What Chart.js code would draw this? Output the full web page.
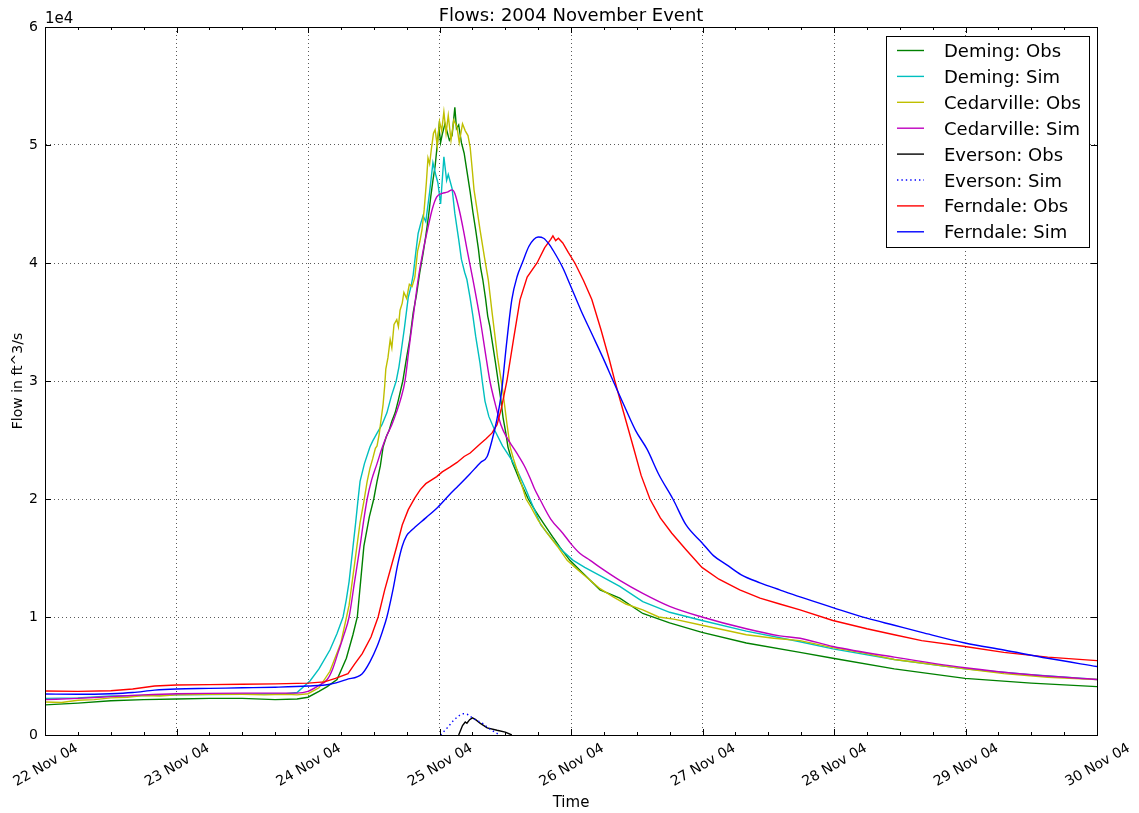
<!DOCTYPE html>
<html>
<head>
<meta charset="utf-8">
<title>Flows: 2004 November Event</title>
<script src="https://cdn.jsdelivr.net/npm/chart.js@4/dist/chart.umd.min.js"></script>
<style>
  html, body { margin: 0; padding: 0; background: #fff; }
  canvas { display: block; }
</style>
</head>
<body>
<canvas id="flows" width="1139" height="813"></canvas>
<script>
// time is in hours since 22 Nov 2004 00:00, flows in ft^3/s
const dayLabels = ['22 Nov 04', '23 Nov 04', '24 Nov 04', '25 Nov 04', '26 Nov 04',
  '27 Nov 04', '28 Nov 04', '29 Nov 04', '30 Nov 04'];
const flowTicks = [0, 1, 2, 3, 4, 5, 6];

const demingObsHours = [0, 6, 12, 18, 24, 30, 36, 42, 46, 48, 50, 51.5, 53.3, 55, 56.2, 57, 57.6, 58.2, 59.2, 60,
  60.6, 61.2, 61.7, 62.3, 62.8, 63.3, 63.9, 64.5, 65.3, 66, 66.6, 67.2, 67.8, 68.4, 69, 69.5, 70, 70.4, 70.8, 71.2,
  71.5, 71.9, 72.2, 72.5, 73, 73.4, 73.8, 74.3, 74.8, 75.1, 75.5, 76, 76.5, 77, 77.6, 78.1, 78.6, 79.1, 79.5, 79.9,
  80.4, 80.8, 81.2, 81.6, 82.2, 82.7, 83.2, 83.6, 84.1, 84.5, 85.3, 86, 86.7, 87.5, 88.2, 89.5, 90.9, 92.5, 94, 95.8,
  98, 101.3, 104.9, 109.1, 114, 119.9, 128, 137.8, 143.8, 155, 167.9, 180, 192];
const demingObsFlow = [2550, 2700, 2900, 3000, 3050, 3100, 3100, 3000, 3050, 3200, 3700, 4100, 4700, 6500, 8500, 10000, 13000, 16000, 18500, 20000,
  21500, 22800, 24400, 25300, 25800, 26600, 27300, 28400, 30000, 32000, 33600, 35800, 37300, 39200, 40800, 42300, 44000, 45600, 47000, 48200,
  49600, 51500, 50200, 50900, 51800, 51100, 50400, 50800, 53200, 51400, 51700, 50200, 49300, 47800, 46000, 44300, 42800, 41200, 39600, 38600,
  37000, 35500, 34600, 33400, 31600, 30000, 28400, 26900, 25600, 24400, 23100, 22300, 21500, 20700, 20000, 19000, 18000, 16900, 15900, 14800,
  13800, 12300, 11600, 10300, 9500, 8700, 7800, 7000, 6500, 5600, 4800, 4400, 4100];

const demingSimHours = [0, 6, 12, 18, 24, 36, 44, 46, 48.4, 50, 52, 53.3, 54.4, 55, 55.5, 56.2, 56.7, 57.1, 57.5, 58.3,
  59.3, 59.8, 60.5, 61.5, 62.4, 63.2, 64.1, 64.6, 65, 65.6, 66.3, 66.8, 67.2, 67.7, 68.1, 68.6, 69, 69.5, 70.2, 70.8,
  71.3, 71.7, 72.2, 72.8, 73.3, 73.6, 74.3, 74.8, 75.5, 76, 76.6, 77, 77.6, 78.1, 78.6, 79.4, 79.8, 80.3, 81, 82.1,
  83.5, 85.2, 86.2, 86.8, 87.6, 88.5, 90.5, 92.7, 94.5, 96.4, 98.5, 101.3, 104.9, 109.1, 114, 119.9, 128, 137.8, 143.8, 155,
  167.9, 180, 192];
const demingSimFlow = [3100, 3150, 3300, 3350, 3400, 3450, 3500, 3600, 4600, 5600, 7200, 8600, 10000, 11500, 13000, 15900, 18000, 19800, 21500, 23000,
  24400, 24900, 25500, 26300, 27300, 28700, 30000, 31200, 32500, 34500, 37100, 38000, 39000, 41000, 42500, 43400, 44000, 43500, 46000, 48500,
  47500, 46800, 45000, 49000, 47000, 47500, 46300, 44200, 42000, 40300, 39200, 38600, 37000, 35500, 33800, 31500, 30000, 28300, 27000, 25800,
  24500, 23300, 22400, 21800, 21000, 20000, 17800, 16500, 15600, 14800, 14200, 13500, 12600, 11300, 10400, 9700, 8800, 7900, 7300, 6400,
  5600, 5100, 4700];

const cedarObsHours = [0, 3, 6, 9, 12, 15, 18, 21, 24, 30, 36, 40, 44, 46, 48, 50, 52, 54, 55.5, 56.5,
  57.5, 58.2, 58.8, 59.3, 59.8, 60.3, 60.6, 61, 61.3, 61.7, 62, 62.2, 62.6, 63, 63.3, 63.7, 64.2, 64.5, 64.8, 65.2,
  65.5, 66, 66.5, 67, 67.5, 68, 68.4, 68.8, 69.2, 69.6, 69.9, 70.2, 70.5, 70.9, 71.2, 71.6, 72, 72.4, 72.8, 73.2,
  73.6, 74.1, 74.6, 75.2, 75.6, 76.2, 76.7, 77.2, 77.6, 78, 78.3, 78.8, 79.4, 80.2, 80.9, 81.6, 82.6, 83.6, 84.3, 84.9,
  85.5, 86.2, 87, 87.8, 88.6, 90, 91.5, 93.5, 95.3, 97, 99, 101.3, 103.7, 106, 109.1, 112, 115, 119.9, 124, 128,
  133, 137.8, 143.8, 150, 155, 160, 167.9, 175, 183, 192];
const cedarObsFlow = [2800, 2750, 2950, 3000, 3150, 3200, 3350, 3300, 3400, 3450, 3450, 3400, 3450, 3400, 3500, 4000, 5400, 7800, 11000, 14500,
  18000, 19800, 21500, 22600, 23400, 24300, 24500, 25500, 26600, 28000, 29600, 31000, 32000, 33500, 32800, 34800, 35200, 34600, 36000, 36600,
  37500, 37000, 38200, 38000, 38800, 41000, 41800, 42800, 44500, 46800, 48900, 48400, 49600, 51000, 51300, 49900, 52000, 51200, 52800, 51000,
  52500, 50400, 52100, 51500, 50200, 51800, 51200, 50800, 49800, 47800, 46200, 44700, 42800, 40500, 38600, 35800, 32000, 29000, 26400, 24400,
  23400, 22400, 21200, 20000, 19400, 18200, 17200, 16000, 14800, 14100, 13300, 12400, 11700, 11100, 10600, 10000, 9800, 9300, 8900, 8500,
  8200, 8000, 7400, 6900, 6400, 6100, 5600, 5200, 4900, 4700];

const cedarSimHours = [0, 6, 12, 18, 24, 36, 46, 48, 50, 51.5, 52.5, 53.5, 54.5, 55.5, 56.5, 57.5, 58.2, 58.8, 59.6, 60.6,
  61.5, 62.5, 63.3, 64.1, 65, 65.7, 66.5, 67.3, 68.1, 69, 69.9, 70.7, 71.5, 72.5, 73.4, 74.3, 74.8, 75.7, 76.4, 77,
  78.1, 79.5, 80.4, 81.2, 82.2, 83.2, 84.3, 85.4, 86.5, 87.5, 88.5, 89.4, 90.3, 92.3, 94.5, 96, 97.6, 99.5, 101.3, 104.9,
  109.1, 114, 119.9, 128, 134.1, 137.8, 143.8, 155, 167.9, 180, 192];
const cedarSimFlow = [3000, 3100, 3250, 3400, 3500, 3550, 3550, 3700, 4200, 4700, 5600, 7000, 8400, 10000, 13000, 16000, 18300, 20000, 21600, 23000,
  24300, 25500, 26300, 27300, 28600, 30000, 33000, 35800, 38600, 41000, 43000, 44600, 45600, 45900, 46000, 46200, 45900, 44300, 42700, 41200,
  38600, 35000, 32300, 30000, 28000, 26300, 25200, 24400, 23600, 22800, 21800, 20800, 20000, 18300, 17100, 16200, 15400, 14800, 14200, 13100,
  12000, 10900, 10000, 9000, 8400, 8200, 7500, 6600, 5700, 5100, 4700];

const eversonObsHours = [75.5, 76.2, 76.7, 77, 77.5, 78, 78.6, 79.4, 80.7, 82.5, 84, 85.2];
const eversonObsFlow = [0, 800, 1100, 1000, 1300, 1450, 1300, 1000, 600, 400, 250, 0];

const eversonSimHours = [72.2, 73.6, 74.5, 75.2, 76.3, 77.3, 78.1, 79, 79.8, 80.9, 82.1, 83];
const eversonSimFlow = [0, 700, 1200, 1500, 1800, 1700, 1400, 1200, 1000, 600, 250, 0];

const ferndaleObsHours = [0, 6, 12, 16, 20, 24, 30, 36, 42, 48, 51, 53, 55.3, 56.5, 57.9, 59.5, 60.8, 62, 63.2, 64.2,
  65.2, 66.3, 67.5, 68.5, 69.5, 70.5, 71.5, 72.5, 73.9, 75.2, 76.5, 77.6, 79.5, 80.5, 81.6, 82.5, 83.3, 84.3, 85.5, 86.7,
  88, 89.8, 91.2, 92.3, 92.7, 93.2, 93.7, 94.5, 95.5, 96.7, 98.3, 99.8, 101.5, 103, 104, 105.5, 107.5, 108.8, 110.4, 112.3,
  114.4, 117, 119.9, 123, 126.8, 130.5, 134.1, 137.8, 143.8, 150, 155, 160, 167.9, 175, 183, 192];
const ferndaleObsFlow = [3730, 3700, 3750, 3900, 4150, 4240, 4270, 4300, 4330, 4400, 4500, 4800, 5200, 6000, 6900, 8300, 10000, 12300, 14300, 16000,
  17800, 19100, 20100, 20800, 21300, 21600, 21900, 22300, 22700, 23100, 23600, 23900, 24700, 25100, 25600, 26300, 27700, 30000, 33500, 36900,
  38800, 40000, 41300, 42000, 42300, 41900, 42100, 41700, 40900, 40000, 38500, 36900, 34300, 31800, 30000, 27500, 24200, 22000, 20000, 18400,
  17100, 15700, 14200, 13200, 12300, 11600, 11100, 10600, 9700, 9000, 8500, 8000, 7500, 7000, 6600, 6300];

const ferndaleSimHours = [0, 6, 12, 16, 20, 24, 30, 36, 42, 48, 52, 55, 57.9, 59.3, 60.6, 61.6, 62.4, 63.5, 64.4, 65.2,
  66, 66.8, 67.5, 69.5, 71.7, 73.9, 75.4, 77.5, 79.5, 80.7, 81.6, 82.5, 83.3, 84.2, 85.2, 86.2, 87.1, 88.3, 89.2, 90,
  91, 92, 92.7, 94.5, 95.8, 97.8, 99.8, 101.8, 103.7, 106, 107.8, 109.9, 112, 114.6, 117, 119.9, 122, 124.5, 127, 130.5,
  134.1, 137.8, 143.8, 150, 155, 160, 167.9, 175, 183, 192];
const ferndaleSimFlow = [3470, 3450, 3500, 3600, 3800, 3900, 3950, 4000, 4050, 4150, 4300, 4700, 5200, 6200, 7500, 8800, 10000, 12300, 14500, 16000,
  16900, 17300, 17600, 18400, 19300, 20400, 21100, 22100, 23100, 23600, 25000, 26800, 29000, 33000, 36900, 38900, 40000, 41400, 42000, 42200,
  42100, 41600, 41100, 39600, 38200, 36000, 34000, 32000, 30000, 27600, 25800, 24200, 22100, 20000, 17800, 16300, 15200, 14400, 13600, 12900,
  12300, 11700, 10800, 9900, 9300, 8700, 7800, 7200, 6500, 5800];

const FONT = 'DejaVu Sans';

function toPoints(hours, flows) {
  return hours.map((h, i) => ({ x: h, y: flows[i] }));
}

function line(label, hours, flows, color, dash, smooth) {
  return {
    label: label,
    data: toPoints(hours, flows),
    borderColor: color,
    backgroundColor: color,
    borderWidth: 1.4,
    borderDash: dash || [],
    pointRadius: 0,
    fill: false,
    tension: 0,
    cubicInterpolationMode: smooth ? 'monotone' : 'default'
  };
}

const datasets = [
  line('Deming: Obs', demingObsHours, demingObsFlow, '#008000'),
  line('Deming: Sim', demingSimHours, demingSimFlow, '#00bfbf'),
  line('Cedarville: Obs', cedarObsHours, cedarObsFlow, '#bfbf00'),
  line('Cedarville: Sim', cedarSimHours, cedarSimFlow, '#bf00bf', null, true),
  line('Everson: Obs', eversonObsHours, eversonObsFlow, '#000000'),
  line('Everson: Sim', eversonSimHours, eversonSimFlow, '#0000ff', [1.4, 3], true),
  line('Ferndale: Obs', ferndaleObsHours, ferndaleObsFlow, '#ff0000'),
  line('Ferndale: Sim', ferndaleSimHours, ferndaleSimFlow, '#0000ff', null, true)
];
// matplotlib draws later lines on top
datasets.forEach((d, i) => { d.order = datasets.length - i; });

const gridColor = 'rgba(0,0,0,0.65)';

// title, offset text, inward ticks, frame and legend box
const decor = {
  id: 'decor',
  afterDraw(chart) {
    const ctx = chart.ctx;
    const a = chart.chartArea;
    const xs = chart.scales.x, ys = chart.scales.y;
    ctx.save();
    ctx.strokeStyle = '#000';
    ctx.lineWidth = 1;
    ctx.beginPath();
    xs.ticks.forEach(t => {
      const px = Math.round(xs.getPixelForValue(t.value)) + 0.5;
      const len = t.value % 24 === 0 ? 6 : 3;
      ctx.moveTo(px, a.bottom); ctx.lineTo(px, a.bottom - len);
      ctx.moveTo(px, a.top); ctx.lineTo(px, a.top + len);
    });
    ys.ticks.forEach(t => {
      const py = Math.round(ys.getPixelForValue(t.value)) + 0.5;
      ctx.moveTo(a.left, py); ctx.lineTo(a.left + 6, py);
      ctx.moveTo(a.right, py); ctx.lineTo(a.right - 6, py);
    });
    ctx.stroke();
    ctx.strokeRect(Math.round(a.left) + 0.5, Math.round(a.top) + 0.5,
      Math.round(a.right - a.left), Math.round(a.bottom - a.top));

    ctx.fillStyle = '#000';
    ctx.textBaseline = 'alphabetic';
    ctx.textAlign = 'center';
    ctx.font = '18px "' + FONT + '"';
    ctx.fillText('Flows: 2004 November Event', (a.left + a.right) / 2, a.top - 6);
    ctx.textAlign = 'left';
    ctx.font = '15px "' + FONT + '"';
    ctx.fillText('1e4', a.left, a.top - 4);

    // legend
    const bx = a.right - 211, by = a.top + 9, bw = 203, bh = 211;
    ctx.fillStyle = '#fff';
    ctx.fillRect(bx, by, bw, bh);
    ctx.strokeRect(bx + 0.5, by + 0.5, bw, bh);
    ctx.font = '18px "' + FONT + '"';
    chart.data.datasets.forEach((d, i) => {
      const y = by + 14.5 + i * 25.9;
      ctx.strokeStyle = d.borderColor;
      ctx.lineWidth = 1.4;
      ctx.setLineDash(d.borderDash || []);
      ctx.beginPath();
      ctx.moveTo(bx + 11, y); ctx.lineTo(bx + 38, y);
      ctx.stroke();
      ctx.setLineDash([]);
      ctx.fillStyle = '#000';
      ctx.fillText(d.label, bx + 58, y + 6.5);
    });
    ctx.restore();
  }
};

new Chart(document.getElementById('flows'), {
  type: 'line',
  data: { datasets: datasets },
  options: {
    responsive: false,
    animation: false,
    devicePixelRatio: 1,
    parsing: false,
    layout: { padding: { left: 0, right: 42, top: 27, bottom: 0 } },
    plugins: {
      legend: { display: false },
      tooltip: { enabled: false },
      title: { display: false }
    },
    scales: {
      x: {
        type: 'linear',
        min: 0,
        max: 192,
        afterFit(scale) { scale.height = 78; scale.paddingLeft = 0; scale.paddingRight = 0; },
        ticks: {
          stepSize: 6,
          autoSkip: false,
          minRotation: 30,
          maxRotation: 30,
          padding: 5,
          labelOffset: 32,
          color: '#000',
          font: { family: FONT, size: 14 },
          callback: v => (v % 24 === 0 ? dayLabels[v / 24] : '')
        },
        grid: {
          drawTicks: false,
          lineWidth: 1,
          color: c => (c.tick && c.tick.value % 24 === 0 ? gridColor : 'rgba(0,0,0,0)')
        },
        border: { display: true, color: '#000', width: 1, dash: [1, 3] },
        title: {
          display: true,
          text: 'Time',
          color: '#000',
          font: { family: FONT, size: 15 },
          padding: { top: 0, bottom: 1 }
        }
      },
      y: {
        min: 0,
        max: 60000,
        afterFit(scale) { scale.width = 45; scale.paddingTop = 0; scale.paddingBottom = 0; },
        ticks: {
          stepSize: 10000,
          padding: 7,
          color: '#000',
          font: { family: FONT, size: 14 },
          callback: v => flowTicks[v / 10000]
        },
        grid: { drawTicks: false, lineWidth: 1, color: gridColor },
        border: { display: true, color: '#000', width: 1, dash: [1, 3] },
        title: {
          display: true,
          text: 'Flow in ft^3/s',
          color: '#000',
          font: { family: FONT, size: 14 },
          padding: { top: 10, bottom: 0 }
        }
      }
    }
  },
  plugins: [decor]
});
</script>
</body>
</html>
